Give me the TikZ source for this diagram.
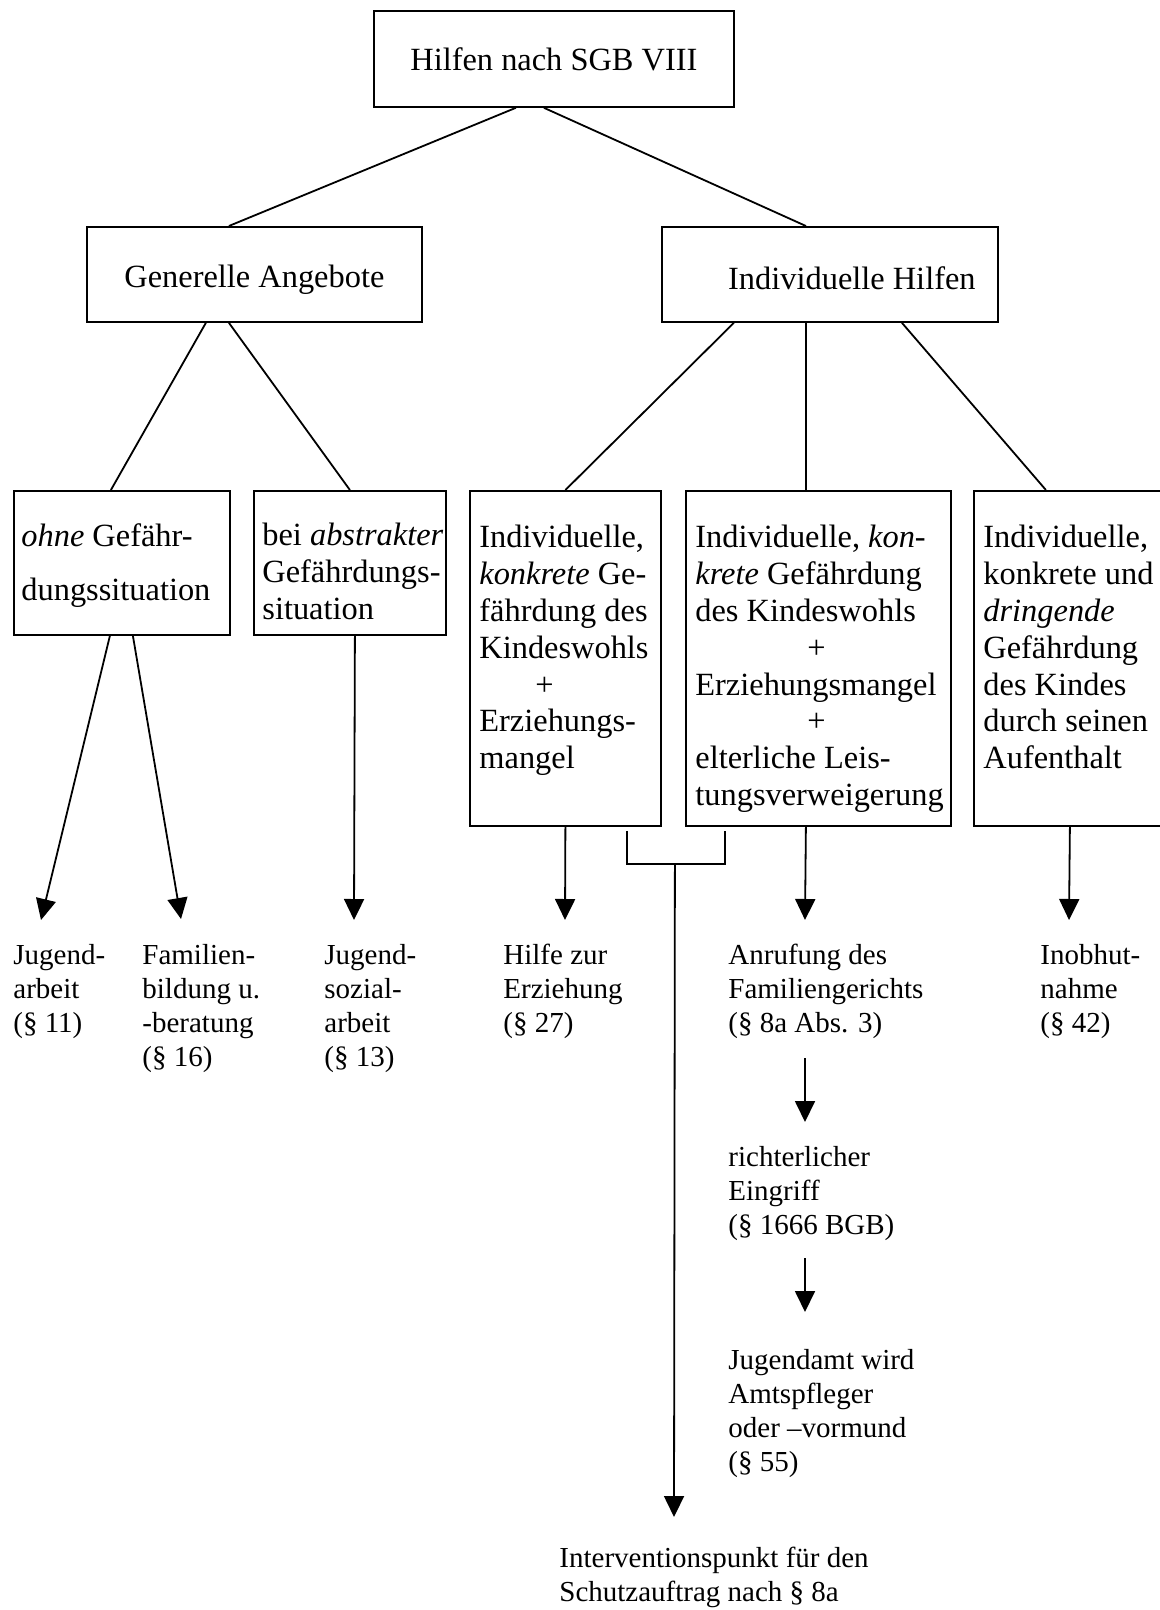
\documentclass[tikz,border=0pt]{standalone}
\usepackage{fontspec}
\setmainfont{Liberation Serif}
\usetikzlibrary{arrows.meta}

\newcommand{\boxfont}{\fontsize{16.2}{18.4}\selectfont}
\newcommand{\leaffont}{\fontsize{14.5}{17}\selectfont}

\begin{document}
\begin{tikzpicture}[x=0.5pt,y=-0.5pt,
    box/.style={draw,line width=0.9pt,inner sep=0,anchor=north west,font=\boxfont},
    boxtext/.style={inner sep=0,anchor=north west,align=left,font=\boxfont},
    leaf/.style={inner sep=0,anchor=north west,align=left,font=\leaffont},
    conn/.style={line width=0.9pt},
    arr/.style={line width=0.9pt,-{Triangle[width=10pt,length=10.5pt]}}]
    \useasboundingbox (0,0) rectangle (1160,1610);
    \clip (0,0) rectangle (1160,1610);

    \node[box,minimum width=180pt,minimum height=48pt] (top) at (373,10) {Hilfen nach SGB VIII};
    \node[box,minimum width=167.5pt,minimum height=47.5pt,text height=17pt] (gen) at (86,226) {Generelle Angebote};
    \node[box,minimum width=168pt,minimum height=47.5pt,text height=15pt] (indiv) at (661,226) {\hspace*{22pt}Individuelle Hilfen};

    \node[box,minimum width=108pt,minimum height=72pt] (b1) at (13,490) {};
    \node[box,minimum width=96pt,minimum height=72pt] (b2) at (253,490) {};
    \node[box,minimum width=95.5pt,minimum height=167.5pt] (b3) at (469,490) {};
    \node[box,minimum width=132.5pt,minimum height=167.5pt] (b4) at (685,490) {};
    \node[box,minimum width=113.5pt,minimum height=167.5pt] (b5) at (973,490) {};

    \node[boxtext,font=\fontsize{16.2}{27.2}\selectfont] (t1) at (21,523) {\textit{ohne} Gefähr-\\dungssituation};
    \node[boxtext] (t2) at (262,523) {bei \textit{abstrakter}\\Gefährdungs-\\situation};
    \node[boxtext] (t3) at (479,525) {Individuelle,\\\textit{konkrete} Ge-\\fährdung des\\Kindeswohls\\\hspace*{28pt}+\\Erziehungs-\\mangel};
    \node[boxtext] (t4) at (695,525) {Individuelle, \textit{kon-}\\\textit{krete} Gefährdung\\des Kindeswohls\\\hspace*{56pt}+\\Erziehungsmangel\\\hspace*{56pt}+\\elterliche Leis-\\tungsverweigerung};
    \node[boxtext] (t5) at (983,525) {Individuelle,\\konkrete und\\\textit{dringende}\\Gefährdung\\des Kindes\\durch seinen\\Aufenthalt};

    \node[leaf] (ja) at (13,944) {Jugend-\\arbeit\\(§ 11)};
    \node[leaf] (fb) at (142,944) {Familien-\\bildung u.\\-beratung\\(§ 16)};
    \node[leaf] (js) at (324,944) {Jugend-\\sozial-\\arbeit\\(§ 13)};
    \node[leaf] (hz) at (503,944) {Hilfe zur\\Erziehung\\(§ 27)};
    \node[leaf] (af) at (728,944) {Anrufung des\\Familiengerichts\\(§ 8a Abs. 3)};
    \node[leaf] (io) at (1040,944) {Inobhut-\\nahme\\(§ 42)};
    \node[leaf] (re) at (728,1146) {richterlicher\\Eingriff\\(§ 1666 BGB)};
    \node[leaf] (jw) at (728,1349) {Jugendamt wird\\Amtspfleger\\oder –vormund\\(§ 55)};
    \node[leaf] (ip) at (559,1547) {Interventionspunkt für den\\Schutzauftrag nach § 8a};

    \draw[conn] ([xshift=-19pt]top.south) -- ([xshift=-12.75pt]gen.north);
    \draw[conn] ([xshift=-5pt]top.south) -- ([xshift=-12pt]indiv.north);
    \draw[conn] ([xshift=-24.25pt]gen.south) -- ([xshift=-5.5pt]b1.north);
    \draw[conn] ([xshift=-12.75pt]gen.south) -- (b2.north);
    \draw[conn] ([xshift=-48pt]indiv.south) -- (b3.north);
    \draw[conn] ([xshift=-12pt]indiv.south) -- ([xshift=-6.25pt]b4.north);
    \draw[conn] ([xshift=36pt]indiv.south) -- ([xshift=-20.75pt]b5.north);

    \draw[arr] ([xshift=-6pt]b1.south) -- ([shift={(14pt,12pt)}]ja.north west);
    \draw[arr] ([xshift=5.5pt]b1.south) -- ([shift={(19.5pt,12.5pt)}]fb.north west);
    \draw[arr] ([xshift=2.5pt]b2.south) -- ([shift={(15pt,12pt)}]js.north west);
    \draw[arr] (b3.south) -- ([shift={(31pt,12pt)}]hz.north west);
    \draw[arr] ([xshift=-6.25pt]b4.south) -- ([shift={(38.5pt,12pt)}]af.north west);
    \draw[arr] ([xshift=-8.75pt]b5.south) -- ([shift={(14.5pt,12pt)}]io.north west);
    \draw[arr] ([shift={(38.5pt,-9.5pt)}]af.south west) -- ([shift={(38.5pt,12pt)}]re.north west);
    \draw[arr] ([shift={(38.5pt,-8.5pt)}]re.south west) -- ([shift={(38.5pt,18.5pt)}]jw.north west);

    \draw[conn] ([shift={(30.75pt,-2pt)}]b3.south) -- ++(0,-16.5pt) -| ([shift={(-46.75pt,-2pt)}]b4.south);
    \coordinate (brk) at ([shift={(54.75pt,-18.5pt)}]b3.south);
    \draw[arr] (brk) -- ([shift={(57.5pt,15pt)}]ip.north west);
\end{tikzpicture}
\end{document}
